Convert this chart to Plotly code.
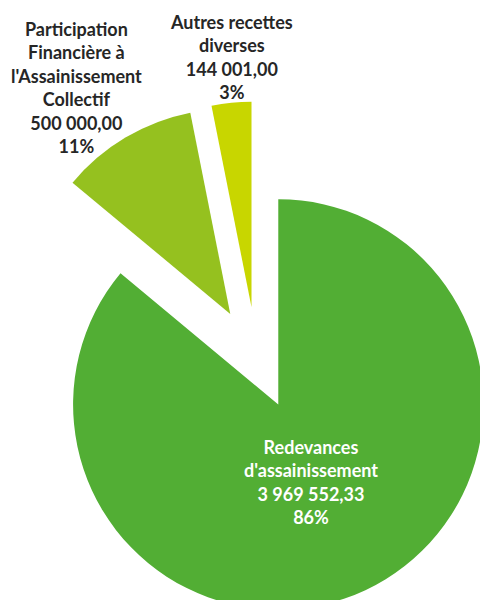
import plotly.graph_objects as go

# Data
labels = ["Redevances d'assainissement",
          "Participation Financière à l'Assainissement Collectif",
          "Autres recettes diverses"]
label_lines = ["Redevances<br>d'assainissement",
               "Participation<br>Financière à<br>l'Assainissement<br>Collectif",
               "Autres recettes<br>diverses"]
values = [3969552.33, 500000.00, 144001.00]
colors = ["#52AE34", "#95C11F", "#C8D600"]

W, H = 513, 716
total = sum(values)


def fr_num(v):
    return f"{v:,.2f}".replace(",", " ").replace(".", ",")


def pct(v):
    return f"{round(v / total * 100)}%"


fig = go.Figure(go.Pie(
    labels=labels,
    values=values,
    sort=False,
    direction="clockwise",
    rotation=0,
    pull=[0.25, 0.25, 0.25],
    marker=dict(colors=colors, line=dict(width=0)),
    textinfo="none",
    hoverinfo="label+value+percent",
    showlegend=False,
))

# Slice labels (pixel positions -> paper coords)
label_pos = {0: (311, 482), 1: (76, 88), 2: (231, 57)}
label_col = {0: "white", 1: "#262626", 2: "#262626"}
for i, (px, py) in label_pos.items():
    fig.add_annotation(
        x=px / W, y=1 - py / H, xref="paper", yref="paper",
        text=f"{label_lines[i]}<br>{fr_num(values[i])}<br>{pct(values[i])}",
        showarrow=False, xanchor="center", yanchor="middle", align="center",
        font=dict(family="Lato", size=18, color=label_col[i], weight="bold"),
    )

fig.update_layout(
    width=W, height=H,
    margin=dict(l=0, r=0, t=0, b=0),
    paper_bgcolor="white",
    plot_bgcolor="white",
    showlegend=False,
)

fig.write_html(
    "out.html",
    config={"displayModeBar": False},
    post_script="document.body.style.margin='0';document.body.style.overflow='hidden';"
                "document.documentElement.style.overflow='hidden';",
)
